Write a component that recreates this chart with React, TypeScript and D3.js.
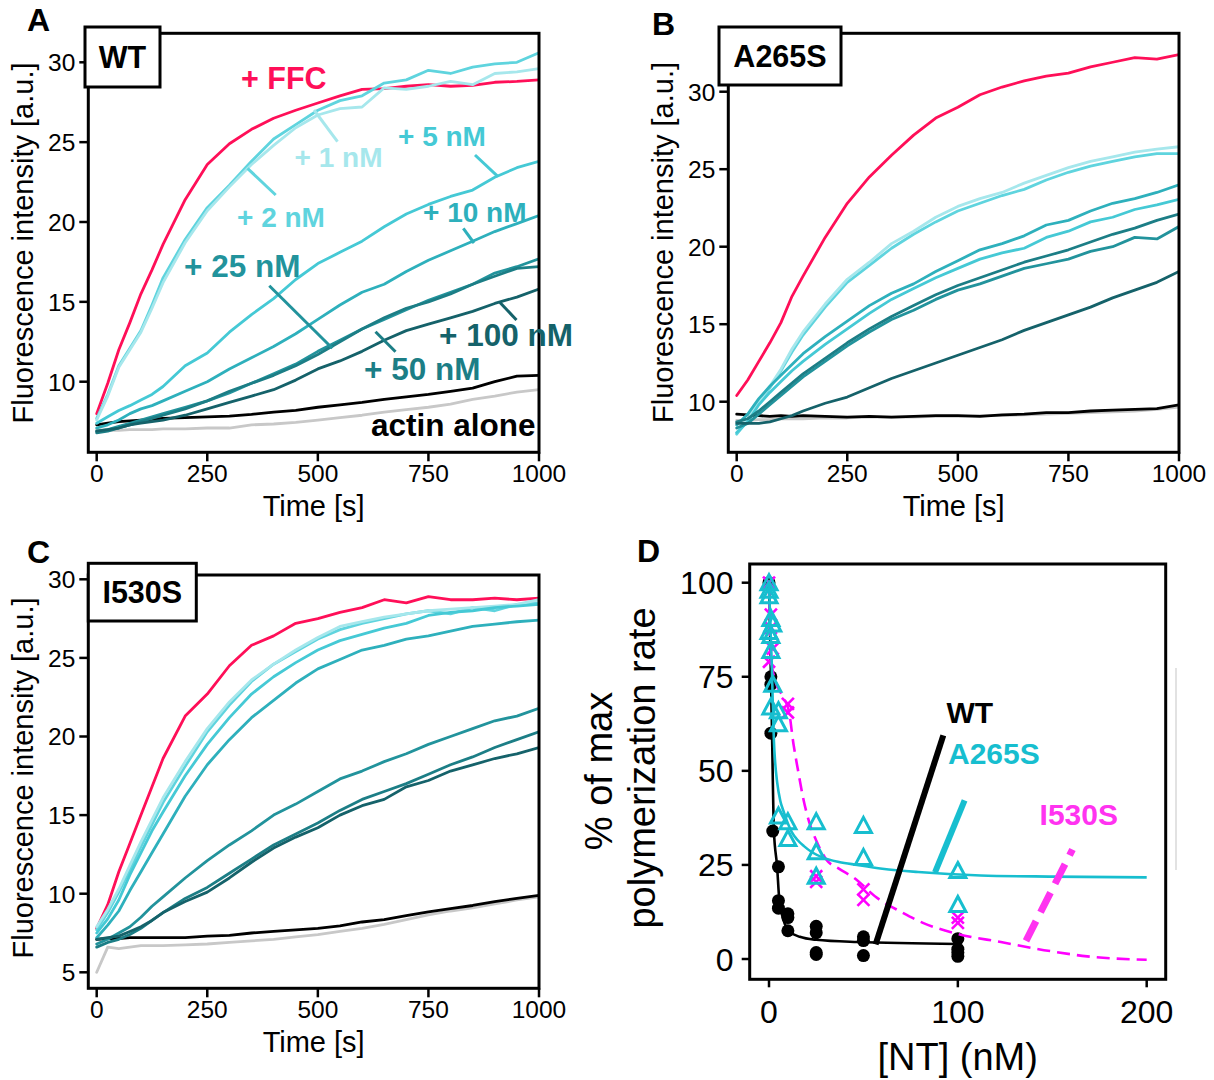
import React from "react";
import * as d3 from "d3";

const FONT = "'Liberation Sans', Arial, Helvetica, sans-serif";

// ---------- shared time grid (s) ----------
const TIME = [0, 25, 50, 75, 100, 125, 150, 200, 250, 300, 350, 400, 450, 500, 550, 600, 650, 700, 750, 800, 850, 900, 950, 1000];
const X_TICKS = [0, 250, 500, 750, 1000];

// ---------- Panel A : WT ----------
const A_FFC = [8.0, 9.9, 12.0, 13.7, 15.5, 17.0, 18.6, 21.4, 23.6, 24.9, 25.8, 26.5, 27.0, 27.45, 27.9, 28.3, 28.35, 28.5, 28.6, 28.5, 28.55, 28.75, 28.8, 28.9];
const A_1 = [7.6, 9.1, 10.9, 12.0, 13.1, 14.6, 16.2, 18.7, 20.7, 22.2, 23.6, 24.8, 25.9, 26.7, 27.1, 27.2, 28.4, 28.3, 28.5, 28.8, 28.6, 29.3, 29.4, 29.6];
const A_2 = [7.7, 9.2, 11.0, 12.1, 13.2, 14.8, 16.5, 18.9, 20.9, 22.3, 23.8, 25.2, 26.1, 27.0, 27.6, 27.9, 28.7, 28.9, 29.5, 29.3, 29.7, 29.9, 30.0, 30.6];
const A_5 = [7.4, 7.8, 8.2, 8.5, 8.85, 9.2, 9.7, 11.0, 11.8, 13.1, 14.2, 15.2, 16.4, 17.4, 18.1, 18.8, 19.7, 20.5, 21.1, 21.6, 22.0, 22.8, 23.4, 23.8];
const A_10 = [7.1, 7.3, 7.6, 8.0, 8.3, 8.5, 8.8, 9.4, 10.0, 10.8, 11.5, 12.2, 13.0, 13.9, 14.8, 15.6, 16.1, 16.9, 17.6, 18.2, 18.8, 19.4, 19.9, 20.4];
const A_25 = [6.9, 7.0, 7.2, 7.4, 7.6, 7.8, 8.0, 8.4, 8.8, 9.3, 9.9, 10.5, 11.1, 11.9, 12.6, 13.3, 13.9, 14.5, 15.1, 15.6, 16.1, 16.8, 17.2, 17.7];
const A_50 = [6.8, 6.9, 7.1, 7.3, 7.5, 7.7, 7.9, 8.3, 8.8, 9.4, 9.9, 10.4, 11.0, 11.7, 12.5, 13.3, 14.0, 14.6, 15.0, 15.5, 16.1, 16.6, 17.1, 17.2];
const A_100 = [6.9, 7.0, 7.1, 7.3, 7.4, 7.5, 7.6, 7.9, 8.3, 8.7, 9.1, 9.5, 10.1, 10.8, 11.3, 11.9, 12.6, 13.2, 13.6, 14.0, 14.4, 14.9, 15.3, 15.8];
const A_ACTIN = [7.3, 7.4, 7.5, 7.55, 7.6, 7.65, 7.7, 7.75, 7.8, 7.85, 7.95, 8.1, 8.2, 8.4, 8.55, 8.7, 8.9, 9.05, 9.2, 9.4, 9.6, 10.0, 10.35, 10.4];
const A_CTRL = [7.0, 6.95, 6.95, 7.0, 7.0, 7.0, 7.05, 7.05, 7.1, 7.1, 7.3, 7.35, 7.45, 7.6, 7.75, 7.9, 8.1, 8.25, 8.4, 8.6, 8.9, 9.1, 9.35, 9.5];

// ---------- Panel B : A265S ----------
const B_FFC = [10.4, 11.4, 12.6, 13.8, 15.1, 16.8, 18.1, 20.6, 22.8, 24.5, 25.9, 27.2, 28.3, 29.0, 29.8, 30.3, 30.7, 31.0, 31.2, 31.6, 31.9, 32.2, 32.1, 32.4];
const B_1 = [8.0, 8.9, 10.0, 11.0, 12.1, 13.4, 14.5, 16.3, 17.9, 19.0, 20.2, 21.0, 21.9, 22.6, 23.1, 23.5, 24.1, 24.6, 25.1, 25.5, 25.8, 26.1, 26.3, 26.45];
const B_2 = [7.9, 8.8, 9.9, 10.9, 12.0, 13.2, 14.3, 16.1, 17.7, 18.8, 19.9, 20.8, 21.6, 22.3, 22.8, 23.3, 23.7, 24.3, 24.8, 25.2, 25.5, 25.8, 26.0, 26.0];
const B_5 = [8.0, 8.7, 9.8, 10.6, 11.3, 12.0, 12.6, 13.7, 14.7, 15.7, 16.6, 17.3, 18.0, 18.6, 19.2, 19.6, 19.9, 20.6, 21.0, 21.6, 21.9, 22.4, 22.7, 23.05];
const B_10 = [8.5, 9.2, 10.2, 11.0, 11.7, 12.4, 13.1, 14.2, 15.2, 16.2, 17.0, 17.6, 18.4, 19.1, 19.8, 20.2, 20.7, 21.4, 21.7, 22.3, 22.8, 23.1, 23.5, 24.0];
const B_25 = [8.3, 8.6, 9.2, 9.8, 10.4, 11.0, 11.6, 12.6, 13.6, 14.5, 15.3, 15.9, 16.6, 17.2, 17.6, 18.1, 18.6, 18.9, 19.2, 19.7, 20.0, 20.6, 20.5, 21.3];
const B_50 = [8.7, 8.9, 9.4, 10.0, 10.6, 11.2, 11.8, 12.8, 13.8, 14.7, 15.5, 16.2, 16.9, 17.5, 18.0, 18.5, 19.0, 19.4, 19.8, 20.3, 20.8, 21.2, 21.7, 22.1];
const B_100 = [8.6, 8.6, 8.6, 8.7, 8.9, 9.1, 9.4, 9.9, 10.3, 10.9, 11.5, 12.0, 12.5, 13.0, 13.5, 14.0, 14.6, 15.1, 15.6, 16.1, 16.7, 17.2, 17.7, 18.4];
const B_ACTIN = [9.2, 9.15, 9.1, 9.05, 9.1, 9.05, 9.1, 9.05, 9.0, 9.05, 9.0, 9.05, 9.1, 9.1, 9.05, 9.15, 9.2, 9.3, 9.3, 9.4, 9.45, 9.5, 9.55, 9.8];
const B_CTRL = [8.8, 8.8, 8.85, 8.85, 8.9, 8.9, 8.9, 8.95, 8.95, 9.0, 9.0, 9.0, 9.05, 9.05, 9.1, 9.1, 9.15, 9.2, 9.25, 9.3, 9.35, 9.4, 9.5, 9.65];

// ---------- Panel C : I530S ----------
const C_FFC = [7.8, 9.3, 11.4, 13.2, 15.0, 16.8, 18.6, 21.3, 22.7, 24.5, 25.8, 26.4, 27.2, 27.5, 27.9, 28.2, 28.7, 28.5, 28.9, 28.7, 28.7, 28.8, 28.7, 28.8];
const C_1 = [7.9, 9.0, 10.3, 11.8, 13.3, 14.7, 16.1, 18.4, 20.5, 22.2, 23.6, 24.6, 25.5, 26.3, 27.0, 27.3, 27.6, 27.8, 28.0, 28.1, 28.2, 28.3, 28.4, 28.7];
const C_2 = [7.7, 8.8, 10.1, 11.5, 13.0, 14.4, 15.8, 18.1, 20.3, 22.0, 23.5, 24.6, 25.4, 26.2, 26.8, 27.2, 27.5, 27.8, 28.0, 27.8, 28.2, 28.0, 28.4, 28.5];
const C_5 = [7.5, 8.4, 9.6, 11.2, 12.6, 14.0, 15.2, 17.5, 19.5, 21.2, 22.7, 23.8, 24.7, 25.5, 26.1, 26.5, 26.9, 27.2, 27.7, 27.9, 28.0, 28.2, 28.3, 28.4];
const C_10 = [7.2, 8.0, 8.9, 10.2, 11.4, 12.6, 13.8, 16.2, 18.2, 19.8, 21.2, 22.3, 23.4, 24.3, 24.9, 25.5, 25.8, 26.2, 26.4, 26.7, 27.0, 27.15, 27.3, 27.4];
const C_25 = [6.8, 7.1, 7.5, 7.9, 8.5, 9.2, 9.8, 11.0, 12.1, 13.1, 14.0, 15.0, 15.7, 16.5, 17.3, 17.8, 18.4, 18.9, 19.5, 20.0, 20.5, 21.0, 21.3, 21.8];
const C_50 = [6.6, 6.9, 7.1, 7.4, 7.8, 8.3, 8.8, 9.7, 10.4, 11.3, 12.2, 13.1, 13.8, 14.5, 15.3, 16.0, 16.5, 17.0, 17.6, 18.2, 18.7, 19.3, 19.8, 20.3];
const C_100 = [7.1, 7.2, 7.3, 7.6, 7.9, 8.3, 8.8, 9.5, 10.1, 11.0, 12.0, 12.9, 13.6, 14.2, 15.0, 15.6, 16.0, 16.8, 17.2, 17.8, 18.2, 18.6, 18.9, 19.3];
const C_ACTIN = [7.1, 7.15, 7.15, 7.2, 7.2, 7.2, 7.2, 7.2, 7.3, 7.35, 7.5, 7.6, 7.7, 7.8, 7.95, 8.2, 8.35, 8.6, 8.85, 9.05, 9.25, 9.5, 9.7, 9.9];
const C_CTRL = [5.0, 6.6, 6.5, 6.6, 6.7, 6.7, 6.7, 6.75, 6.8, 6.9, 7.0, 7.1, 7.25, 7.4, 7.6, 7.8, 8.05, 8.35, 8.65, 8.9, 9.1, 9.35, 9.6, 9.8];

// ---------- Panel D : dose response ----------
const WT_X = [0, 1, 1, 1, 2, 5, 5, 5, 10, 10, 10, 25, 25, 25, 25, 50, 50, 50, 100, 100, 100, 100];
const WT_Y = [100, 75, 73, 60, 34, 24.5, 15.5, 13.5, 12, 11, 7.5, 8.7, 7, 1.7, 1.2, 5.9, 4.9, 0.9, 5.4, 2.6, 1.7, 0.7];
const A265S_X = [0, 0, 0, 1, 2, 0, 1, 1, 2, 1, 5, 5, 5, 10, 10, 25, 25, 25, 50, 50, 100, 100];
const A265S_Y = [100, 98, 96.5, 90.5, 89, 87, 86, 82, 73, 67, 66, 62.5, 38, 36.5, 32, 36.5, 28.5, 22, 35.5, 27, 23.5, 14.5];
const I530S_X = [0, 1, 1, 2, 0, 10, 10, 25, 25, 50, 50, 100, 100];
const I530S_Y = [100, 91.5, 88, 82.5, 79, 67.8, 65.5, 22, 20.5, 18.5, 15.7, 11, 9.6];

const WT_FIT_X = [0, 1, 1.6, 2.6, 4.3, 5.4, 7.6, 10.9, 16.3, 25, 46.7, 100];
const WT_FIT_Y = [100, 76, 60, 34, 24.5, 16.1, 10.5, 7.3, 5.9, 5.1, 4.5, 4.0];
const A265S_FIT_X = [0, 0.5, 1, 1.5, 2, 2.6, 3.3, 4.3, 6, 7.6, 10, 12, 15, 18.5, 23, 29.3, 37, 46.7, 60, 79, 112, 150, 200];
const A265S_FIT_Y = [100, 92, 85, 78, 68, 58, 52, 47, 42, 39.4, 36, 33.8, 31.7, 30, 28.3, 26.8, 25.8, 25, 24, 23.1, 22.2, 21.9, 21.7];
const I530S_FIT_X = [0, 1, 3.3, 7, 10.5, 13, 15.2, 18, 21.7, 25, 30.4, 37, 44.6, 57.6, 70, 81.5, 98.9, 122.8, 148.9, 168.5, 200];
const I530S_FIT_Y = [100, 80, 74, 70, 66, 57, 50.6, 43, 35.7, 31.5, 26.4, 24, 21.7, 16.1, 12.5, 9.6, 6.8, 4.5, 2.1, 0.7, -0.2];

const D_X_TICKS = [0, 100, 200];
const D_Y_TICKS = [0, 25, 50, 75, 100];

// ---------- colours ----------
const COL = {
  ffc: "#ff0f58",
  n1: "#a6e7ec",
  n2: "#5fd4de",
  n5: "#45c9d5",
  n10: "#2eb0bc",
  n25: "#22939c",
  n50: "#1c7e86",
  n100: "#15626a",
  actin: "#000000",
  ctrl: "#c8c8c8",
  cyan: "#17becf",
  magenta: "#ff00ff",
  magText: "#ff33f0",
};

type Frame = { l: number; r: number; t: number; b: number };
type Series = { values: number[]; color: string };
type PanelCfg = {
  id: string;
  frame: Frame;
  xRange: [number, number];
  yDomain: [number, number];
  yRange: [number, number];
  yTicks: number[];
  series: Series[];
  title: string;
  box: { x: number; y: number; w: number; h: number };
  letter: { x: number; y: number; text: string };
  yLabel: { x: number; y: number };
};

const PANELS: PanelCfg[] = [
  {
    id: "A",
    frame: { l: 88.3, r: 539, t: 33.3, b: 452.3 },
    xRange: [96.7, 539],
    yDomain: [10, 30],
    yRange: [381.7, 62.3],
    yTicks: [10, 15, 20, 25, 30],
    series: [
      { values: A_CTRL, color: COL.ctrl },
      { values: A_ACTIN, color: COL.actin },
      { values: A_FFC, color: COL.ffc },
      { values: A_2, color: COL.n2 },
      { values: A_1, color: COL.n1 },
      { values: A_5, color: COL.n5 },
      { values: A_10, color: COL.n10 },
      { values: A_25, color: COL.n25 },
      { values: A_50, color: COL.n50 },
      { values: A_100, color: COL.n100 },
    ],
    title: "WT",
    box: { x: 85, y: 27, w: 75, h: 60 },
    letter: { x: 27, y: 31, text: "A" },
    yLabel: { x: 33.3, y: 243 },
  },
  {
    id: "B",
    frame: { l: 728.3, r: 1179, t: 33.3, b: 452.3 },
    xRange: [736.7, 1179],
    yDomain: [10, 30],
    yRange: [401.7, 91.7],
    yTicks: [10, 15, 20, 25, 30],
    series: [
      { values: B_CTRL, color: COL.ctrl },
      { values: B_ACTIN, color: COL.actin },
      { values: B_FFC, color: COL.ffc },
      { values: B_2, color: COL.n2 },
      { values: B_1, color: COL.n1 },
      { values: B_5, color: COL.n5 },
      { values: B_10, color: COL.n10 },
      { values: B_25, color: COL.n25 },
      { values: B_50, color: COL.n50 },
      { values: B_100, color: COL.n100 },
    ],
    title: "A265S",
    box: { x: 719, y: 27, w: 122, h: 58 },
    letter: { x: 652, y: 35, text: "B" },
    yLabel: { x: 673.3, y: 242.5 },
  },
  {
    id: "C",
    frame: { l: 88.3, r: 539, t: 575, b: 988.3 },
    xRange: [96.7, 539],
    yDomain: [5, 30],
    yRange: [972.3, 579.3],
    yTicks: [5, 10, 15, 20, 25, 30],
    series: [
      { values: C_CTRL, color: COL.ctrl },
      { values: C_ACTIN, color: COL.actin },
      { values: C_FFC, color: COL.ffc },
      { values: C_2, color: COL.n2 },
      { values: C_1, color: COL.n1 },
      { values: C_5, color: COL.n5 },
      { values: C_10, color: COL.n10 },
      { values: C_25, color: COL.n25 },
      { values: C_50, color: COL.n50 },
      { values: C_100, color: COL.n100 },
    ],
    title: "I530S",
    box: { x: 88.3, y: 563.3, w: 108, h: 57.7 },
    letter: { x: 27, y: 563, text: "C" },
    yLabel: { x: 33.3, y: 778 },
  },
];

// annotations of panel A (text left/baseline, leader segment)
const A_NOTES = [
  { text: "+ FFC", x: 241, y: 89, size: 30.5, color: COL.ffc, leader: null as null | number[] },
  { text: "+ 1 nM", x: 294.6, y: 166.7, size: 28, color: COL.n1, leader: [314, 110, 337.5, 141.7] },
  { text: "+ 2 nM", x: 237, y: 227, size: 28, color: COL.n2, leader: [247.5, 168.3, 275.7, 195] },
  { text: "+ 5 nM", x: 398, y: 146, size: 28, color: COL.n5, leader: [475, 155, 498, 176.7] },
  { text: "+ 10 nM", x: 423, y: 221.7, size: 28, color: COL.n10, leader: [463.3, 228.3, 474, 243] },
  { text: "+ 25 nM", x: 184, y: 277, size: 31.5, color: COL.n25, leader: [269.3, 285.7, 332.3, 348.3] },
  { text: "+ 50 nM", x: 364, y: 380, size: 31.5, color: COL.n50, leader: [375.5, 331.7, 395.5, 351.7] },
  { text: "+ 100 nM", x: 439, y: 346, size: 31.5, color: COL.n100, leader: [500, 302.5, 516.5, 320] },
  { text: "actin alone", x: 371, y: 436, size: 31.5, color: COL.actin, leader: null },
];

function TimePanel({ cfg }: { cfg: PanelCfg }) {
  const x = d3.scaleLinear().domain([0, 1000]).range(cfg.xRange);
  const y = d3.scaleLinear().domain(cfg.yDomain).range(cfg.yRange);
  const line = d3
    .line<number>()
    .x((_, i) => x(TIME[i]))
    .y((v) => y(v));
  const { l, r, t, b } = cfg.frame;
  return (
    <g>
      <defs>
        <clipPath id={`clip-${cfg.id}`}>
          <rect x={l} y={t} width={r - l} height={b - t} />
        </clipPath>
      </defs>
      <g clipPath={`url(#clip-${cfg.id})`}>
        {cfg.series.map((s, i) => (
          <path key={i} d={line(s.values) || ""} fill="none" stroke={s.color} strokeWidth={2.8} strokeLinejoin="round" strokeLinecap="round" />
        ))}
      </g>
      <rect x={l} y={t} width={r - l} height={b - t} fill="none" stroke="#000" strokeWidth={3} />
      {X_TICKS.map((v) => (
        <g key={v}>
          <line x1={x(v)} x2={x(v)} y1={b} y2={b + 9} stroke="#000" strokeWidth={2.5} />
          <text x={x(v)} y={b + 30} textAnchor="middle" fontSize={24.5}>
            {v}
          </text>
        </g>
      ))}
      {cfg.yTicks.map((v) => (
        <g key={v}>
          <line x1={l - 9} x2={l} y1={y(v)} y2={y(v)} stroke="#000" strokeWidth={2.5} />
          <text x={l - 13} y={y(v)} dy="0.36em" textAnchor="end" fontSize={24.5}>
            {v}
          </text>
        </g>
      ))}
      <text x={(l + r) / 2} y={b + 64} textAnchor="middle" fontSize={29}>
        Time [s]
      </text>
      <text transform={`translate(${cfg.yLabel.x},${cfg.yLabel.y}) rotate(-90)`} textAnchor="middle" fontSize={29}>
        Fluorescence intensity [a.u.]
      </text>
      <rect x={cfg.box.x} y={cfg.box.y} width={cfg.box.w} height={cfg.box.h} fill="#fff" stroke="#000" strokeWidth={3} />
      <text x={cfg.box.x + cfg.box.w / 2} y={cfg.box.y + cfg.box.h / 2 + 11} textAnchor="middle" fontSize={30.5} fontWeight="bold">
        {cfg.title}
      </text>
      <text x={cfg.letter.x} y={cfg.letter.y} fontSize={32} fontWeight="bold">
        {cfg.letter.text}
      </text>
    </g>
  );
}

function AnnotationsA() {
  return (
    <g>
      {A_NOTES.map((n, i) => (
        <g key={i}>
          {n.leader && (
            <line x1={n.leader[0]} y1={n.leader[1]} x2={n.leader[2]} y2={n.leader[3]} stroke={n.color} strokeWidth={3} />
          )}
          <text x={n.x} y={n.y} fontSize={n.size} fontWeight="bold" fill={n.color}>
            {n.text}
          </text>
        </g>
      ))}
    </g>
  );
}

function DosePanel() {
  const frame = { l: 749.7, r: 1165.7, t: 564, b: 979.3 };
  const x = d3.scaleLinear().domain([0, 200]).range([769, 1146.7]);
  const y = d3.scaleLinear().domain([0, 100]).range([959, 582.7]);
  const fit = (xs: number[], ys: number[]) =>
    d3
      .line<number>()
      .x((v) => x(v))
      .y((_, i) => y(ys[i]))
      .curve(d3.curveMonotoneX)(xs) || "";
  const tri = (cx: number, cy: number) => `M${cx},${cy - 8}L${cx + 8},${cy + 7}L${cx - 8},${cy + 7}Z`;
  const { l, r, t, b } = frame;
  return (
    <g>
      <line x1={1176} x2={1176} y1={668} y2={870} stroke="#e2e2e2" strokeWidth={2} />
      <defs>
        <clipPath id="clip-D">
          <rect x={l} y={t} width={r - l} height={b - t} />
        </clipPath>
      </defs>
      <g clipPath="url(#clip-D)">
        {WT_X.map((v, i) => (
          <circle key={`w${i}`} cx={x(v)} cy={y(WT_Y[i])} r={6.5} fill="#000" />
        ))}
        <path d={fit(WT_FIT_X, WT_FIT_Y)} fill="none" stroke="#000" strokeWidth={2.6} />
        {I530S_X.map((v, i) => {
          const cx = x(v);
          const cy = y(I530S_Y[i]);
          const s = 6;
          return (
            <g key={`m${i}`} stroke={COL.magenta} strokeWidth={2.6}>
              <line x1={cx - s} y1={cy - s} x2={cx + s} y2={cy + s} />
              <line x1={cx - s} y1={cy + s} x2={cx + s} y2={cy - s} />
            </g>
          );
        })}
        <path d={fit(I530S_FIT_X, I530S_FIT_Y)} fill="none" stroke={COL.magenta} strokeWidth={2.6} strokeDasharray="13 7" />
        <path d={fit(A265S_FIT_X, A265S_FIT_Y)} fill="none" stroke={COL.cyan} strokeWidth={2.6} />
        {A265S_X.map((v, i) => (
          <path key={`a${i}`} d={tri(x(v), y(A265S_Y[i]))} fill="none" stroke={COL.cyan} strokeWidth={3} strokeLinejoin="miter" />
        ))}
      </g>
      <rect x={l} y={t} width={r - l} height={b - t} fill="none" stroke="#000" strokeWidth={3} />
      {D_X_TICKS.map((v) => (
        <g key={v}>
          <line x1={x(v)} x2={x(v)} y1={b} y2={b + 8} stroke="#000" strokeWidth={2.5} />
          <text x={x(v)} y={1023} textAnchor="middle" fontSize={32}>
            {v}
          </text>
        </g>
      ))}
      {D_Y_TICKS.map((v) => (
        <g key={v}>
          <line x1={l - 8} x2={l} y1={y(v)} y2={y(v)} stroke="#000" strokeWidth={2.5} />
          <text x={733.5} y={y(v)} dy="0.36em" textAnchor="end" fontSize={32}>
            {v}
          </text>
        </g>
      ))}
      <text x={(l + r) / 2} y={1070} textAnchor="middle" fontSize={38}>
        [NT] (nM)
      </text>
      <text transform="translate(611.5,771) rotate(-90)" textAnchor="middle" fontSize={38}>
        % of max
      </text>
      <text transform="translate(655,768) rotate(-90)" textAnchor="middle" fontSize={38}>
        polymerization rate
      </text>
      {/* inline legend */}
      <line x1={875.6} y1={944.3} x2={943.3} y2={735.4} stroke="#000" strokeWidth={6} />
      <line x1={935} y1={872.3} x2={964.6} y2={800.4} stroke={COL.cyan} strokeWidth={6} />
      <line x1={1026} y1={940.8} x2={1072.5} y2={849.5} stroke={COL.magText} strokeWidth={7} strokeDasharray="22 10" />
      <text x={946.5} y={723} fontSize={30} fontWeight="bold" fill="#000">
        WT
      </text>
      <text x={948} y={763.5} fontSize={30} fontWeight="bold" fill={COL.cyan}>
        A265S
      </text>
      <text x={1039.6} y={825} fontSize={30} fontWeight="bold" fill={COL.magText}>
        I530S
      </text>
      <text x={637} y={562} fontSize={32} fontWeight="bold">
        D
      </text>
    </g>
  );
}

export default function App() {
  return (
    <svg
      width={1214}
      height={1080}
      viewBox="0 0 1214 1080"
      style={{ position: "absolute", left: 0, top: 0, display: "block", background: "#fff" }}
      fontFamily={FONT}
    >
      <rect x={0} y={0} width={1214} height={1080} fill="#fff" />
      {PANELS.map((p) => (
        <TimePanel key={p.id} cfg={p} />
      ))}
      <AnnotationsA />
      <DosePanel />
    </svg>
  );
}
